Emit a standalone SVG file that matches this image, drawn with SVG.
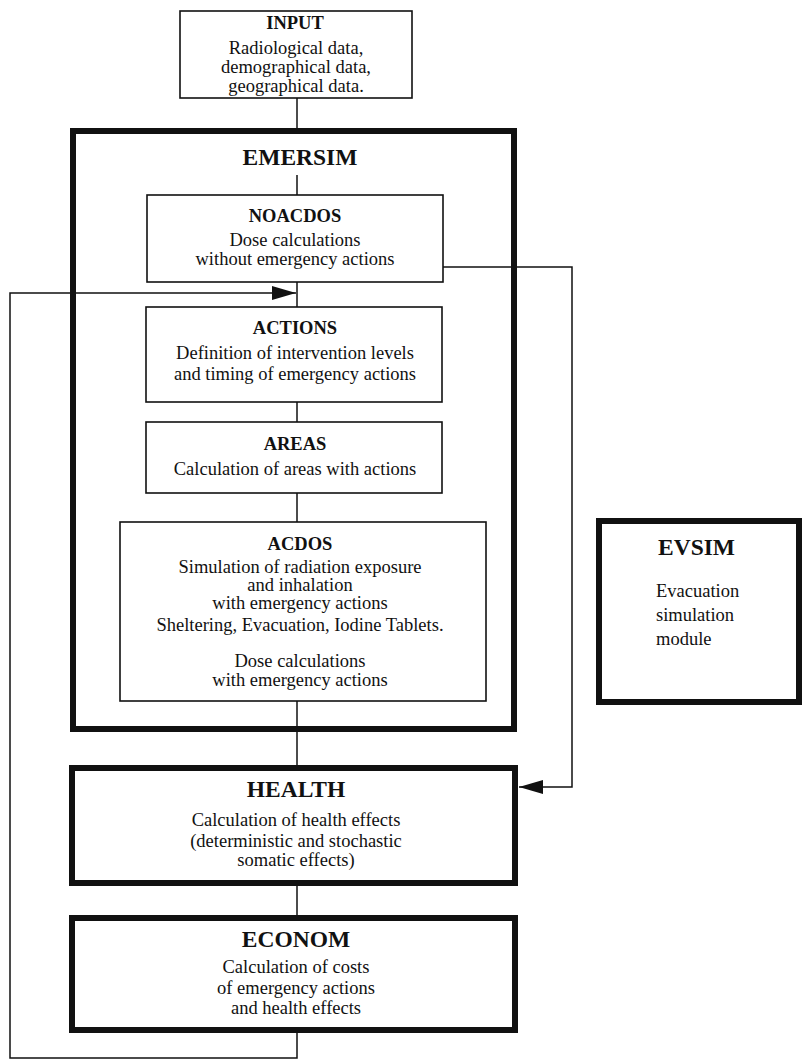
<svg xmlns="http://www.w3.org/2000/svg" width="802" height="1060" viewBox="0 0 802 1060">
  <defs>
    <style>
      text { font-family: "Liberation Serif", "Times New Roman", serif; fill: #111; text-anchor: middle; }
      .ttl { font-weight: bold; font-size: 18.5px; }
      .big { font-weight: bold; font-size: 23.5px; }
      .txt { font-size: 18.5px; }
      .thin { fill: #fff; stroke: #111; stroke-width: 1.6; }
      .thick { fill: none; stroke: #111; stroke-width: 6; }
      .thickf { fill: #fff; stroke: #111; stroke-width: 6; }
      .wire { fill: none; stroke: #111; stroke-width: 1.5; }
      .left { text-anchor: start; }
    </style>
    <marker id="arr" viewBox="0 0 24 14" refX="24" refY="7" markerWidth="24" markerHeight="14" markerUnits="userSpaceOnUse" orient="auto">
      <path d="M0,0 L24,7 L0,14 Z" fill="#111"/>
    </marker>
  </defs>

  <rect width="802" height="1060" fill="#fff"/>

  <!-- connectors -->
  <g id="connectors">
    <path class="wire" d="M297,98 V131"/>
    <path class="wire" d="M297,175 V195"/>
    <path class="wire" d="M297,282 V307"/>
    <path class="wire" d="M297,402 V422"/>
    <path class="wire" d="M297,493 V522"/>
    <path class="wire" d="M297,701 V767"/>
    <path class="wire" d="M297,883 V918"/>
    <!-- feedback loop from ECONOM back into the emergency chain -->
    <path class="wire" d="M297,1030 V1058 H10 V293 H296" marker-end="url(#arr)"/>
    <!-- NOACDOS results straight to HEALTH -->
    <path class="wire" d="M443,267 H572 V787 H519" marker-end="url(#arr)"/>
  </g>

  <!-- EMERSIM container -->
  <g id="emersim">
    <rect class="thick" x="73" y="131" width="441" height="598"/>
    <text class="big" x="300" y="165">EMERSIM</text>
  </g>

  <g id="input">
    <rect class="thin" x="180" y="11" width="232" height="87"/>
    <text class="ttl" x="295" y="29">INPUT</text>
    <text class="txt" x="296" y="54">Radiological data,</text>
    <text class="txt" x="296" y="73">demographical data,</text>
    <text class="txt" x="296" y="92">geographical data.</text>
  </g>

  <g id="noacdos">
    <rect class="thin" x="147" y="195" width="296" height="87"/>
    <text class="ttl" x="295" y="222">NOACDOS</text>
    <text class="txt" x="295" y="246">Dose calculations</text>
    <text class="txt" x="295" y="265">without emergency actions</text>
  </g>

  <g id="actions">
    <rect class="thin" x="146" y="307" width="296" height="95"/>
    <text class="ttl" x="295" y="334">ACTIONS</text>
    <text class="txt" x="295" y="359">Definition of intervention levels</text>
    <text class="txt" x="295" y="380">and timing of emergency actions</text>
  </g>

  <g id="areas">
    <rect class="thin" x="146" y="422" width="296" height="71"/>
    <text class="ttl" x="295" y="450">AREAS</text>
    <text class="txt" x="295" y="475">Calculation of areas with actions</text>
  </g>

  <g id="acdos">
    <rect class="thin" x="120" y="522" width="366" height="179"/>
    <text class="ttl" x="300" y="550">ACDOS</text>
    <text class="txt" x="300" y="573">Simulation of radiation exposure</text>
    <text class="txt" x="300" y="591">and inhalation</text>
    <text class="txt" x="300" y="609">with emergency actions</text>
    <text class="txt" x="300" y="631">Sheltering, Evacuation, Iodine Tablets.</text>
    <text class="txt" x="300" y="667">Dose calculations</text>
    <text class="txt" x="300" y="686">with emergency actions</text>
  </g>

  <g id="evsim">
    <rect class="thickf" x="599" y="521" width="200" height="181"/>
    <text class="big left" x="658" y="555">EVSIM</text>
    <text class="txt left" x="656" y="597">Evacuation</text>
    <text class="txt left" x="656" y="621">simulation</text>
    <text class="txt left" x="656" y="645">module</text>
  </g>

  <g id="health">
    <rect class="thickf" x="72" y="768" width="443" height="115"/>
    <text class="big" x="296" y="797">HEALTH</text>
    <text class="txt" x="296" y="826">Calculation of health effects</text>
    <text class="txt" x="296" y="847">(deterministic and stochastic</text>
    <text class="txt" x="296" y="866">somatic effects)</text>
  </g>

  <g id="econom">
    <rect class="thickf" x="72" y="918" width="443" height="112"/>
    <text class="big" x="296" y="947">ECONOM</text>
    <text class="txt" x="296" y="973">Calculation of costs</text>
    <text class="txt" x="296" y="994">of emergency actions</text>
    <text class="txt" x="296" y="1014">and health effects</text>
  </g>
</svg>
